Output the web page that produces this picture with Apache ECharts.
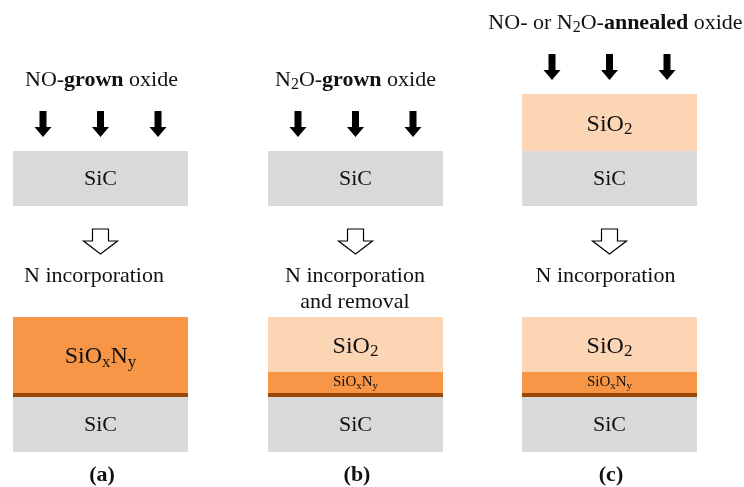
<!DOCTYPE html>
<html>
<head>
<meta charset="utf-8">
<script src="https://cdn.jsdelivr.net/npm/echarts@6/dist/echarts.min.js"></script>
<style>
  html, body { margin: 0; padding: 0; background: #fff; }
  #main { width: 744px; height: 487px; }
</style>
</head>
<body>
<div id="main"></div>
<script>
// Panel captions and process descriptions
const panels = ['(a)', '(b)', '(c)'];
const processLabels = ['NO-{b|grown} oxide', 'N{sub|2}O-{b|grown} oxide', 'NO- or N{sub|2}O-{b|annealed} oxide'];
const resultLabels = ['N incorporation', 'N incorporation\nand removal', 'N incorporation'];

// Layer stacks, listed top to bottom: [material, thickness in diagram units]
const initialStacks = [
  [['SiC', 55]],
  [['SiC', 55]],
  [['SiO2', 57], ['SiC', 55]]
];
const finalStacks = [
  [['SiOxNy', 76], ['interface', 4], ['SiC', 55]],
  [['SiO2', 55], ['SiOxNy', 21], ['interface', 4], ['SiC', 55]],
  [['SiO2', 55], ['SiOxNy', 21], ['interface', 4], ['SiC', 55]]
];

// Gas-flux arrows above each starting stack
const fluxArrowCount = [3, 3, 3];

// ---- layout ----
const W = 744, H = 487;
const colCenter = [100.5, 355.5, 609.5];
const titleX = [101.5, 355.5, 615.5];
const resultX = [94, 355, 605.5];
const boxW = 175;
const initialBottom = 206;
const finalBottom = 452;
const fluxGap = 14;       // gap between flux arrows and the stack top
const fluxLen = 26;
const fluxSpacing = 57.5;
const titleAbove = 31;    // title centre above the flux arrows
const hollowTop = 229, hollowH = 25;
const resultTop = 263;
const captionY = 475;

const FONT = '"Liberation Serif", "Times New Roman", serif';
const INK = '#111';
const fills = { SiC: '#d9d9d9', SiO2: '#fcd5b5', SiOxNy: '#f79646', interface: '#984807' };
const layerText = {
  SiC: '{c|SiC}',
  SiO2: '{m|SiO}{msub|2}',
  SiOxNy: '{m|SiO}{msub|x}{m|N}{msub|y}'
};
const thinLayerText = {
  SiOxNy: '{s|SiO}{ssub|x}{s|N}{ssub|y}'
};

const rich = {
  b: { fontFamily: FONT, fontSize: 22, fontWeight: 'bold', color: INK },
  sub: { fontFamily: FONT, fontSize: 16, color: INK, padding: [10, 0, 0, 0] },
  c: { fontFamily: FONT, fontSize: 22, color: INK },
  m: { fontFamily: FONT, fontSize: 24, color: INK },
  msub: { fontFamily: FONT, fontSize: 17, color: INK, padding: [11, 0, 0, 0] },
  s: { fontFamily: FONT, fontSize: 15, color: INK },
  ssub: { fontFamily: FONT, fontSize: 11, color: INK, padding: [8, 0, 0, 0] }
};

// Build layer rectangles: [panel, yTop, yBottom, material index]
const materials = Object.keys(fills);
const layerData = [];
const layerLabelData = [];   // [x, y, text index]
const labelTexts = [];
function addStack(stack, bottom, panel) {
  const total = stack.reduce((s, l) => s + l[1], 0);
  let y = bottom - total;
  stack.forEach(([mat, t]) => {
    layerData.push([panel, y, y + t, materials.indexOf(mat)]);
    if (mat !== 'interface') {
      const txt = (t < 30 && thinLayerText[mat]) ? thinLayerText[mat] : layerText[mat];
      labelTexts.push(txt);
      const dy = mat === 'SiC' ? 1 : (t < 30 ? 0 : 2);
      layerLabelData.push([colCenter[panel], y + t / 2 + dy, labelTexts.length - 1]);
    }
    y += t;
  });
  return bottom - total;
}

const fluxData = [];     // [x, yTop]
const titleData = [];    // [x, y, panel]
const hollowData = [];   // [x, yTop]
const resultData = [];   // [x, yTop, panel]
const captionData = [];  // [x, y, panel]

panels.forEach((p, i) => {
  const top = addStack(initialStacks[i], initialBottom, i);
  addStack(finalStacks[i], finalBottom, i);
  const arrowTop = top - fluxGap - fluxLen;
  for (let k = 0; k < fluxArrowCount[i]; k++) {
    fluxData.push([colCenter[i] + (k - (fluxArrowCount[i] - 1) / 2) * fluxSpacing, arrowTop]);
  }
  titleData.push([titleX[i], arrowTop - titleAbove, i]);
  hollowData.push([colCenter[i], hollowTop]);
  resultData.push([resultX[i], resultTop, i]);
  captionData.push([colCenter[i] + 1.5, captionY, i]);
});

function poly(api, pts) {
  return pts.map(p => api.coord(p));
}

const chart = echarts.init(document.getElementById('main'), null, { renderer: 'canvas' });
chart.setOption({
  backgroundColor: '#fff',
  animation: false,
  grid: { left: 0, right: 0, top: 0, bottom: 0 },
  xAxis: { type: 'value', min: 0, max: W, show: false },
  yAxis: { type: 'value', min: 0, max: H, inverse: true, show: false },
  series: [
    {
      // material layers
      type: 'custom', clip: false, data: layerData,
      renderItem: (params, api) => {
        const panel = api.value(0);
        const x0 = colCenter[panel] - boxW / 2, x1 = colCenter[panel] + boxW / 2;
        const a = api.coord([x0, api.value(1)]);
        const b = api.coord([x1, api.value(2)]);
        return {
          type: 'rect',
          shape: { x: a[0], y: a[1], width: b[0] - a[0], height: b[1] - a[1] },
          style: { fill: fills[materials[api.value(3)]] }
        };
      }
    },
    {
      // layer names
      type: 'custom', clip: false, data: layerLabelData, z: 3,
      renderItem: (params, api) => {
        const c = api.coord([api.value(0), api.value(1)]);
        return {
          type: 'text',
          style: {
            x: c[0], y: c[1], text: labelTexts[api.value(2)],
            align: 'center', verticalAlign: 'middle',
            fontFamily: FONT, fontSize: 22, fill: INK, rich
          }
        };
      }
    },
    {
      // solid gas-flux arrows
      type: 'custom', clip: false, data: fluxData,
      renderItem: (params, api) => {
        const x = api.value(0), t = api.value(1);
        return {
          type: 'polygon',
          shape: {
            points: poly(api, [
              [x - 3.5, t], [x + 3.5, t], [x + 3.5, t + 16], [x + 8.5, t + 16],
              [x, t + fluxLen], [x - 8.5, t + 16], [x - 3.5, t + 16]
            ])
          },
          style: { fill: '#000' }
        };
      }
    },
    {
      // hollow process arrows
      type: 'custom', clip: false, data: hollowData,
      renderItem: (params, api) => {
        const x = api.value(0), t = api.value(1);
        return {
          type: 'polygon',
          shape: {
            points: poly(api, [
              [x - 8, t], [x + 8, t], [x + 8, t + 12], [x + 17, t + 12],
              [x, t + hollowH], [x - 17, t + 12], [x - 8, t + 12]
            ])
          },
          style: { fill: '#fff', stroke: '#000', lineWidth: 1.2 }
        };
      }
    },
    {
      // process titles
      type: 'custom', clip: false, data: titleData,
      renderItem: (params, api) => {
        const c = api.coord([api.value(0), api.value(1)]);
        return {
          type: 'text',
          style: {
            x: c[0], y: c[1], text: processLabels[api.value(2)],
            align: 'center', verticalAlign: 'middle',
            fontFamily: FONT, fontSize: 22, fill: INK, rich
          }
        };
      }
    },
    {
      // outcome descriptions
      type: 'custom', clip: false, data: resultData,
      renderItem: (params, api) => {
        const c = api.coord([api.value(0), api.value(1)]);
        return {
          type: 'text',
          style: {
            x: c[0], y: c[1], text: resultLabels[api.value(2)],
            align: 'center', verticalAlign: 'top', lineHeight: 26,
            fontFamily: FONT, fontSize: 22, fill: INK
          }
        };
      }
    },
    {
      // panel captions
      type: 'custom', clip: false, data: captionData,
      renderItem: (params, api) => {
        const c = api.coord([api.value(0), api.value(1)]);
        return {
          type: 'text',
          style: {
            x: c[0], y: c[1], text: panels[api.value(2)],
            align: 'center', verticalAlign: 'middle',
            fontFamily: FONT, fontSize: 22, fontWeight: 'bold', fill: INK
          }
        };
      }
    }
  ]
});
</script>
</body>
</html>
